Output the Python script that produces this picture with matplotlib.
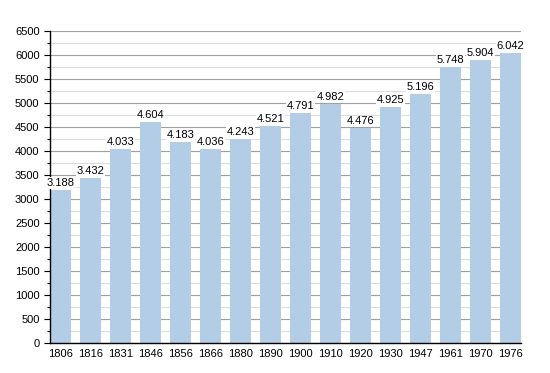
import matplotlib
matplotlib.use("Agg")
import matplotlib.pyplot as plt
from matplotlib.ticker import MultipleLocator

years = ["1806", "1816", "1831", "1846", "1856", "1866", "1880", "1890",
         "1900", "1910", "1920", "1930", "1947", "1961", "1970", "1976"]
population = [3188, 3432, 4033, 4604, 4183, 4036, 4243, 4521,
              4791, 4982, 4476, 4925, 5196, 5748, 5904, 6042]

plt.rcParams['font.family'] = ['Liberation Sans', 'DejaVu Sans']
fig = plt.figure(figsize=(5.5, 3.73), dpi=100)
ax = fig.add_axes([50/550, 30/373, 471/550, 312/373])

x = list(range(len(years)))
ax.bar(x, population, width=0.7, color="#b3cde6", zorder=2)
for xi, v in zip(x, population):
    ax.text(xi, v + 40, f"{v:,}".replace(",", "."), ha="center", va="bottom",
            fontsize=8, zorder=3,
            bbox=dict(facecolor="white", edgecolor="none", pad=0.5))

ax.set_xlim(-0.35, len(years) - 0.65)
ax.set_ylim(0, 6500)
ax.set_xticks(x)
ax.set_xticklabels(years)
ax.yaxis.set_major_locator(MultipleLocator(500))
ax.yaxis.set_minor_locator(MultipleLocator(250))
ax.grid(axis="y", which="major", color="#a0a0a0", linewidth=0.8, zorder=0)
ax.grid(axis="y", which="minor", color="#dddddd", linewidth=0.8, zorder=0)
ax.set_axisbelow(True)
for s in ["top", "right"]:
    ax.spines[s].set_visible(False)
ax.spines["left"].set_linewidth(1)
ax.spines["bottom"].set_linewidth(1)
ax.tick_params(axis="both", labelsize=8, length=4, width=0.8)
ax.tick_params(axis="y", which="minor", length=2, width=0.8)
ax.tick_params(axis="x", length=0, pad=4)

fig.savefig("out.png", dpi=100)
